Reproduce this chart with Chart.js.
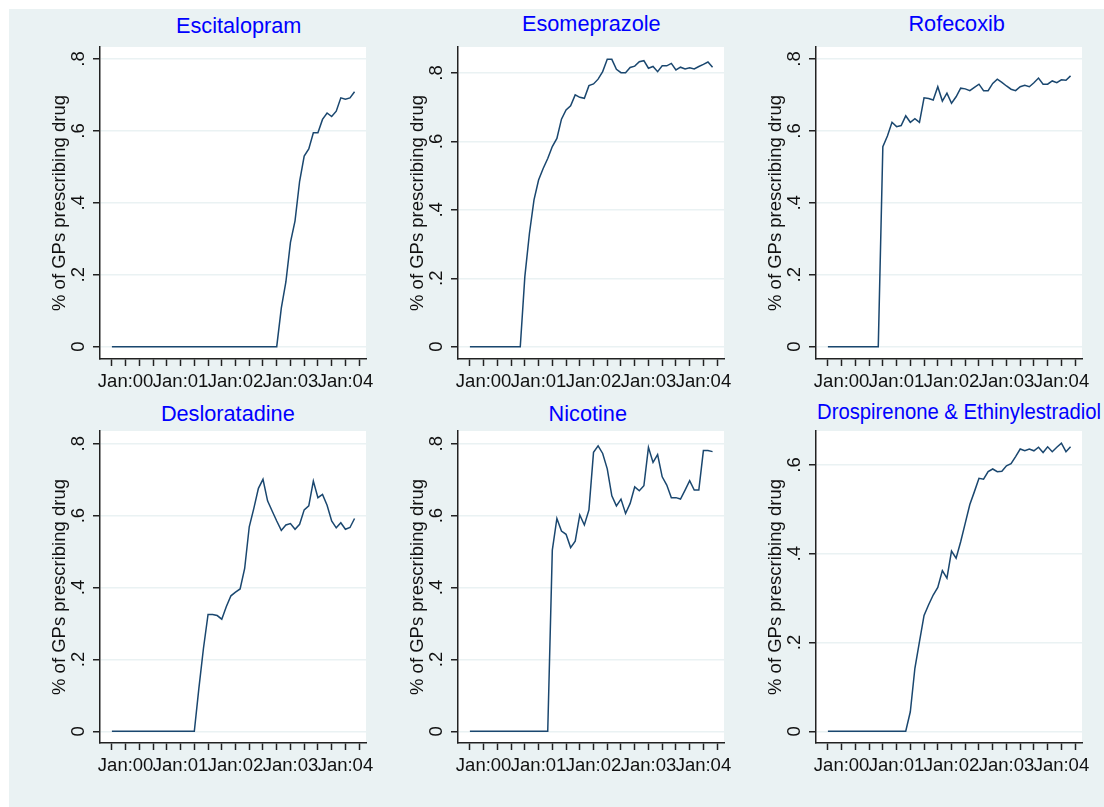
<!DOCTYPE html>
<html>
<head>
<meta charset="utf-8">
<script src="https://cdn.jsdelivr.net/npm/chart.js@4.4.1/dist/chart.umd.min.js"></script>
<style>
  html, body { margin: 0; padding: 0; background: #fff; }
  body { width: 1104px; height: 807px; overflow: hidden; position: relative; font-family: "Liberation Sans", Arial, sans-serif; }
  #frame { position: absolute; left: 9px; top: 9px; right: 0; bottom: 0; background: #eaf2f3; }
  .panel-title { position: absolute; width: 400px; font-size: 21.7px; line-height: 21.7px; color: #0000ff; text-align: center; white-space: nowrap; }
  canvas { position: absolute; }
</style>
</head>
<body>
<div id="frame"></div>
<script>
// Monthly share of GPs prescribing each drug, Oct 1999 .. Mar 2004 (54 months)
const drugNames = ['Escitalopram', 'Esomeprazole', 'Rofecoxib', 'Desloratadine', 'Nicotine', 'Drospirenone & Ethinylestradiol'];

const escitalopram = [
  0, 0, 0, 0, 0, 0, 0, 0, 0, 0, 0, 0, 0, 0, 0, 0, 0, 0, 0, 0,
  0, 0, 0, 0, 0, 0, 0, 0, 0, 0, 0, 0, 0, 0, 0, 0, 0,
  0.107, 0.18, 0.29, 0.35, 0.46, 0.53, 0.55, 0.595, 0.595, 0.632,
  0.65, 0.64, 0.655, 0.692, 0.688, 0.692, 0.709
];
const esomeprazole = [
  0, 0, 0, 0, 0, 0, 0, 0, 0, 0, 0, 0,
  0.205, 0.331, 0.429, 0.487, 0.521, 0.55, 0.585, 0.609, 0.665, 0.692,
  0.704, 0.736, 0.729, 0.726, 0.763, 0.768, 0.782, 0.804, 0.84, 0.84,
  0.811, 0.801, 0.801, 0.816, 0.82, 0.833, 0.836, 0.814, 0.819, 0.804,
  0.821, 0.821, 0.828, 0.809, 0.817, 0.812, 0.815, 0.812, 0.819, 0.825,
  0.832, 0.817
];
const rofecoxib = [
  0, 0, 0, 0, 0, 0, 0, 0, 0, 0, 0, 0,
  0.556, 0.586, 0.624, 0.612, 0.615, 0.642, 0.624, 0.634, 0.624, 0.692,
  0.69, 0.686, 0.723, 0.683, 0.705, 0.677, 0.695, 0.719, 0.717, 0.712,
  0.721, 0.73, 0.712, 0.712, 0.732, 0.744, 0.735, 0.725, 0.716, 0.712,
  0.723, 0.727, 0.723, 0.734, 0.747, 0.73, 0.73, 0.739, 0.734, 0.742,
  0.741, 0.753
];
const desloratadine = [
  0, 0, 0, 0, 0, 0, 0, 0, 0, 0, 0, 0, 0, 0, 0, 0, 0, 0, 0,
  0.12, 0.231, 0.325, 0.325, 0.322, 0.312, 0.347, 0.377, 0.387, 0.396,
  0.453, 0.569, 0.62, 0.676, 0.701, 0.641, 0.613, 0.585, 0.559, 0.574,
  0.578, 0.562, 0.576, 0.616, 0.627, 0.696, 0.65, 0.659, 0.629, 0.585,
  0.566, 0.58, 0.562, 0.567, 0.592
];
const nicotine = [
  0, 0, 0, 0, 0, 0, 0, 0, 0, 0, 0, 0, 0, 0, 0, 0, 0, 0,
  0.504, 0.592, 0.557, 0.548, 0.511, 0.529, 0.602, 0.574, 0.616, 0.776,
  0.794, 0.773, 0.73, 0.655, 0.627, 0.646, 0.606, 0.634, 0.68, 0.669,
  0.683, 0.79, 0.748, 0.77, 0.708, 0.685, 0.65, 0.65, 0.646, 0.671,
  0.697, 0.671, 0.671, 0.781, 0.781, 0.778
];
const drospirenone = [
  0, 0, 0, 0, 0, 0, 0, 0, 0, 0, 0, 0, 0, 0, 0, 0, 0, 0,
  0.044, 0.142, 0.202, 0.261, 0.285, 0.307, 0.324, 0.362, 0.345, 0.406,
  0.39, 0.427, 0.469, 0.511, 0.54, 0.57, 0.568, 0.585, 0.591, 0.585,
  0.586, 0.598, 0.603, 0.619, 0.636, 0.632, 0.636, 0.632, 0.64, 0.628,
  0.641, 0.63, 0.64, 0.649, 0.63, 0.641
];

// x axis: month index (0 = Oct 1999), a tick every quarter
const xTickValues = [0, 3, 6, 9, 12, 15, 18, 21, 24, 27, 30, 33, 36, 39, 42, 45, 48, 51, 54];
const xTickLabels = ['', 'Jan:00', '', '', '', 'Jan:01', '', '', '', 'Jan:02', '', '', '', 'Jan:03', '', '', '', 'Jan:04', ''];
const yTickValues = [0, 0.2, 0.4, 0.6, 0.8];
const yTickLabels = ['0', '.2', '.4', '.6', '.8'];
const yTickValuesShort = [0, 0.2, 0.4, 0.6];
const yTickLabelsShort = ['0', '.2', '.4', '.6'];
const yTitle = '% of GPs prescribing drug';

Chart.defaults.font.family = '"Liberation Sans", Arial, sans-serif';

const plotBg = {
  id: 'plotBg',
  beforeDraw(chart) {
    const { ctx, chartArea: a } = chart;
    ctx.save();
    ctx.fillStyle = '#ffffff';
    ctx.fillRect(a.left, a.top, a.right - a.left, a.bottom - a.top);
    ctx.restore();
  }
};

// plot-region placement (page px) and y ranges
const panels = [
  { name: drugNames[0], values: escitalopram, L: 100, R: 366, T: 47, B: 359, yMin: -0.0342, yMax: 0.8334, yv: yTickValues, yl: yTickLabels, cx: 238.7, base: 33.3 },
  { name: drugNames[1], values: esomeprazole, L: 458, R: 724, T: 47, B: 359, yMin: -0.0359, yMax: 0.876, yv: yTickValues, yl: yTickLabels, cx: 591.3, base: 31.7 },
  { name: drugNames[2], values: rofecoxib, L: 816, R: 1082, T: 47, B: 359, yMin: -0.0342, yMax: 0.8334, yv: yTickValues, yl: yTickLabels, cx: 956.7, base: 31.7 },
  { name: drugNames[3], values: desloratadine, L: 100, R: 366, T: 431, B: 743, yMin: -0.0325, yMax: 0.8354, yv: yTickValues, yl: yTickLabels, cx: 227.8, base: 421.7 },
  { name: drugNames[4], values: nicotine, L: 458, R: 724, T: 431, B: 743, yMin: -0.0325, yMax: 0.8354, yv: yTickValues, yl: yTickLabels, cx: 587.8, base: 421.7 },
  { name: drugNames[5], values: drospirenone, L: 816, R: 1082, T: 431, B: 743, yMin: -0.0264, yMax: 0.6766, yv: yTickValuesShort, yl: yTickLabelsShort, left: 816.7, base: 419, squeeze: 0.935 }
];

const AXIS_W = 62, AXIS_H = 40, PAD_TOP = 6, PAD_RIGHT = 10;
const LABEL_SIZE = 18.5;

panels.forEach(p => {
  const title = document.createElement('div');
  title.className = 'panel-title';
  title.textContent = p.name;
  title.style.top = (p.base - 18.4) + 'px';
  if (p.left !== undefined) {
    title.style.left = p.left + 'px';
    title.style.textAlign = 'left';
  } else {
    title.style.left = (p.cx - 200) + 'px';
  }
  if (p.squeeze) {
    // long title is set narrower in the original so that it just fits the frame
    title.style.transformOrigin = 'left center';
    title.style.transform = 'scaleX(' + p.squeeze + ')';
  }
  document.body.appendChild(title);

  const canvas = document.createElement('canvas');
  canvas.width = p.R - p.L + AXIS_W + PAD_RIGHT;
  canvas.height = p.B - p.T + PAD_TOP + AXIS_H;
  canvas.style.left = (p.L - AXIS_W) + 'px';
  canvas.style.top = (p.T - PAD_TOP) + 'px';
  document.body.appendChild(canvas);

  new Chart(canvas, {
    type: 'line',
    data: {
      datasets: [{
        data: p.values.map((v, i) => ({ x: i, y: v })),
        borderColor: '#1a476f',
        borderWidth: 1.5,
        pointRadius: 0,
        tension: 0,
        fill: false
      }]
    },
    plugins: [plotBg],
    options: {
      responsive: false,
      animation: false,
      devicePixelRatio: 1,
      layout: { padding: { top: PAD_TOP, right: PAD_RIGHT, left: 0, bottom: 0 } },
      plugins: { legend: { display: false }, tooltip: { enabled: false } },
      scales: {
        x: {
          type: 'linear',
          min: -2.6,
          max: 55.5,
          afterBuildTicks: s => { s.ticks = xTickValues.map(v => ({ value: v })); },
          afterFit: s => { s.height = AXIS_H; s.paddingLeft = 0; s.paddingRight = 0; },
          ticks: {
            autoSkip: false, minRotation: 0, maxRotation: 0, padding: 5,
            color: '#111', font: { size: LABEL_SIZE },
            callback: v => xTickLabels[xTickValues.indexOf(v)]
          },
          grid: { drawOnChartArea: false, drawTicks: true, tickLength: 7, tickColor: '#222', tickWidth: 1.5 },
          border: { display: true, color: '#222', width: 1.5 }
        },
        y: {
          min: p.yMin,
          max: p.yMax,
          afterBuildTicks: s => { s.ticks = p.yv.map(v => ({ value: v })); },
          afterFit: s => { s.width = AXIS_W; s.paddingTop = 0; s.paddingBottom = 0; },
          ticks: {
            minRotation: 90, maxRotation: 90, crossAlign: 'center', padding: 6,
            color: '#111', font: { size: LABEL_SIZE },
            callback: v => p.yl[p.yv.indexOf(v)]
          },
          grid: { color: '#eaf2f3', lineWidth: 1.5, drawTicks: true, tickLength: 7, tickColor: '#222', tickWidth: 1.5 },
          border: { display: true, color: '#222', width: 1.5 },
          title: { display: true, text: yTitle, color: '#111', font: { size: LABEL_SIZE }, padding: { top: 11, bottom: 0 } }
        }
      }
    }
  });
});
</script>
</body>
</html>
